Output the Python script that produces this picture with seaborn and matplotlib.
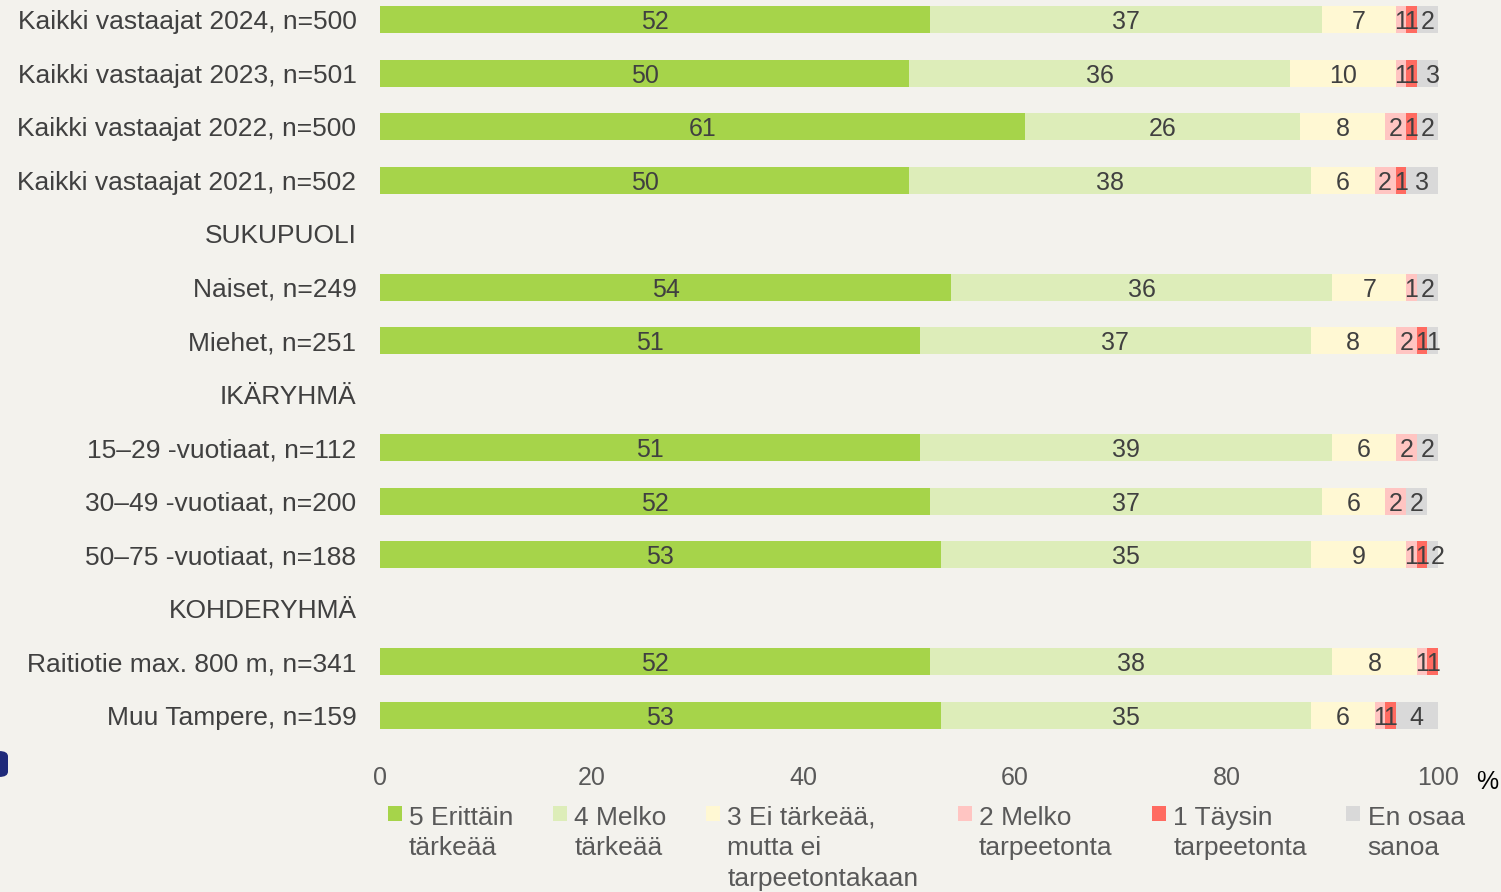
import numpy as np
import pandas as pd
import seaborn as sns
import matplotlib.pyplot as plt
from matplotlib.patches import Patch, FancyBboxPatch

# ---------------- data ----------------
categories = [
    "Kaikki vastaajat 2024, n=500",
    "Kaikki vastaajat 2023, n=501",
    "Kaikki vastaajat 2022, n=500",
    "Kaikki vastaajat 2021, n=502",
    "SUKUPUOLI",
    "Naiset, n=249",
    "Miehet, n=251",
    "IKÄRYHMÄ",
    "15–29 -vuotiaat, n=112",
    "30–49 -vuotiaat, n=200",
    "50–75 -vuotiaat, n=188",
    "KOHDERYHMÄ",
    "Raitiotie max. 800 m, n=341",
    "Muu Tampere, n=159",
]
erittain_tarkeaa = [52, 50, 61, 50, 0, 54, 51, 0, 51, 52, 53, 0, 52, 53]
melko_tarkeaa = [37, 36, 26, 38, 0, 36, 37, 0, 39, 37, 35, 0, 38, 35]
ei_tarkeaa = [7, 10, 8, 6, 0, 7, 8, 0, 6, 6, 9, 0, 8, 6]
melko_tarpeetonta = [1, 1, 2, 2, 0, 1, 2, 0, 2, 2, 1, 0, 1, 1]
taysin_tarpeetonta = [1, 1, 1, 1, 0, 0, 1, 0, 0, 0, 1, 0, 1, 1]
en_osaa_sanoa = [2, 3, 2, 3, 0, 2, 1, 0, 2, 2, 2, 0, 0, 4]

series_names = ["5 Erittäin\ntärkeää", "4 Melko\ntärkeää",
                "3 Ei tärkeää,\nmutta ei\ntarpeetontakaan",
                "2 Melko\ntarpeetonta", "1 Täysin\ntarpeetonta", "En osaa\nsanoa"]
series_values = [erittain_tarkeaa, melko_tarkeaa, ei_tarkeaa,
                 melko_tarpeetonta, taysin_tarpeetonta, en_osaa_sanoa]
colors = ["#A6D44A", "#DDEDB9", "#FFF8D3", "#FFC5C2", "#FF6B61", "#D9D9D9"]
x_ticks = [0, 20, 40, 60, 80, 100]

# ---------------- style ----------------
BG = "#F3F2ED"
plt.rcParams["font.family"] = ["Liberation Sans", "DejaVu Sans"]

W, H = 1501, 892
fig = plt.figure(figsize=(W / 100, H / 100), dpi=100, facecolor=BG)
ax = fig.add_axes([380 / W, 1 - 742 / H, 1058 / W, 742 / H])
ax.set_facecolor(BG)

vals = np.array(series_values, dtype=float)  # shape (6, n)
cum = np.cumsum(vals, axis=0)

# draw stacked bars: cumulative totals from the outermost to the innermost
for k in range(len(series_values) - 1, -1, -1):
    df = pd.DataFrame({"cat": categories, "val": cum[k]})
    sns.barplot(data=df, x="val", y="cat", order=categories, orient="h",
                color=colors[k], saturation=1, width=0.5, linewidth=0,
                errorbar=None, ax=ax)

# value labels
for i in range(len(categories)):
    for k in range(len(series_values)):
        v = vals[k, i]
        if v > 0:
            start = cum[k, i] - v
            ax.text(start + v / 2, i, f"{int(v)}", ha="center",
                    va="center_baseline", fontsize=18, color="#404040")

ax.set_xlim(0, 100)
ax.set_ylim(13.5, -0.37)
ax.set_xticks(x_ticks)
ax.set_xticklabels([str(t) for t in x_ticks])
ax.set_xlabel("")
ax.set_ylabel("")
for s in ax.spines.values():
    s.set_visible(False)
ax.tick_params(axis="x", length=0, pad=17, labelsize=18, labelcolor="#595959")
ax.tick_params(axis="y", length=0, pad=17, labelsize=19, labelcolor="#404040")

fig.text(1487 / W, 1 - 782 / H, "%", ha="center", va="center", fontsize=18,
         color="black")

# legend
handles = [Patch(facecolor=c, edgecolor="none", label=n)
           for c, n in zip(colors, series_names)]
leg = fig.legend(handles=handles, labels=series_names, ncol=6, loc="upper left",
                 bbox_to_anchor=(388 / W, 1 - 806 / H), frameon=False,
                 handlelength=0.52, handleheight=0.52, handletextpad=0.28,
                 columnspacing=1.5, fontsize=19, labelcolor="#595959",
                 borderpad=0, borderaxespad=0)
leg._legend_handle_box.align = "top"
for col in leg._legend_handle_box.get_children():
    col.align = "left"
    for item in col.get_children():
        item.align = "top"
for t in leg.get_texts():
    t.set_linespacing(1.34)

# partial logo fragment at the left edge
fig.patches.append(FancyBboxPatch((-8 / W, 1 - 777 / H), 16 / W, 26 / H,
                                  boxstyle="round,pad=0,rounding_size=0.006",
                                  transform=fig.transFigure, facecolor="#1F2A7A",
                                  edgecolor="none"))

fig.savefig("out.png", dpi=100, facecolor=BG)
